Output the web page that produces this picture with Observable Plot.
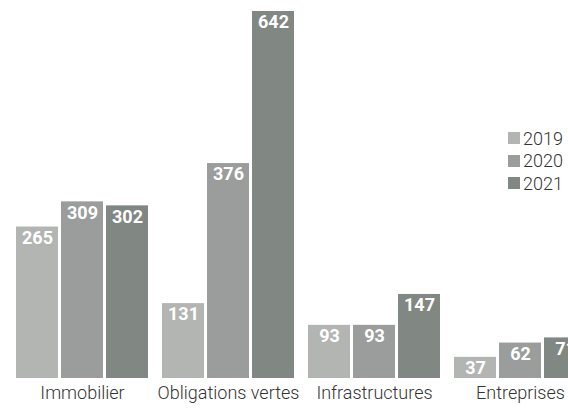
<!DOCTYPE html>
<html>
<head>
<meta charset="utf-8">
<script src="https://cdn.jsdelivr.net/npm/d3@7"></script>
<script src="https://cdn.jsdelivr.net/npm/@observablehq/plot@0.6"></script>
<style>
  html, body { margin: 0; padding: 0; background: #fff; overflow: hidden; }
  #wrap { position: relative; width: 568px; height: 409px; overflow: hidden; font-family: Roboto, sans-serif; }
  #wrap svg { max-width: none !important; display: block; }
  #legend { position: absolute; left: 508px; top: 127px; }
  .row { display: flex; align-items: center; height: 22.5px; font-size: 18px; color: #333; font-weight: 300; }
  .sw { width: 12px; height: 12px; margin-right: 3px; }
</style>
</head>
<body>
<div id="wrap"><div id="legend"></div></div>
<script>
const categories = ["Immobilier", "Obligations vertes", "Infrastructures", "Entreprises"];
const years = ["2019", "2020", "2021"];
const v2019 = [265, 131, 93, 37];
const v2020 = [309, 376, 93, 62];
const v2021 = [302, 642, 147, 71];
const colors = ["#b3b5b3", "#9a9d9b", "#818783"];

const series = [v2019, v2020, v2021];
const data = categories.flatMap((c, i) => years.map((y, j) => ({category: c, year: y, value: series[j][i]})));

const chart = Plot.plot({
  width: 588,
  height: 409,
  marginTop: 11,
  marginBottom: 31,
  marginLeft: 14,
  marginRight: 0,
  style: {fontFamily: "Roboto, sans-serif", background: "transparent", maxWidth: "none"},
  fx: {domain: categories, paddingInner: 0.0934, paddingOuter: 0, axis: null, label: null},
  x: {domain: years, paddingInner: 0.077, paddingOuter: 0, axis: null, label: null},
  y: {domain: [0, 642], axis: null, label: null},
  color: {domain: years, range: colors},
  marks: [
    Plot.barY(data, {fx: "category", x: "year", y: "value", fill: "year"}),
    Plot.text(data, {fx: "category", x: "year", y: "value", text: d => String(d.value), fill: "white", fontWeight: "bold", fontSize: 18, lineAnchor: "top", dy: 4}),
    Plot.text(categories, {fx: d => d, text: d => d, frameAnchor: "bottom", dy: 20, fontSize: 18, fontWeight: 300, fill: "#333"})
  ]
});
document.getElementById("wrap").prepend(chart);

const legend = document.getElementById("legend");
years.forEach((y, i) => {
  const row = document.createElement("div");
  row.className = "row";
  const sw = document.createElement("div");
  sw.className = "sw";
  sw.style.background = colors[i];
  const t = document.createElement("span");
  t.textContent = y;
  row.append(sw, t);
  legend.append(row);
});
</script>
</body>
</html>
